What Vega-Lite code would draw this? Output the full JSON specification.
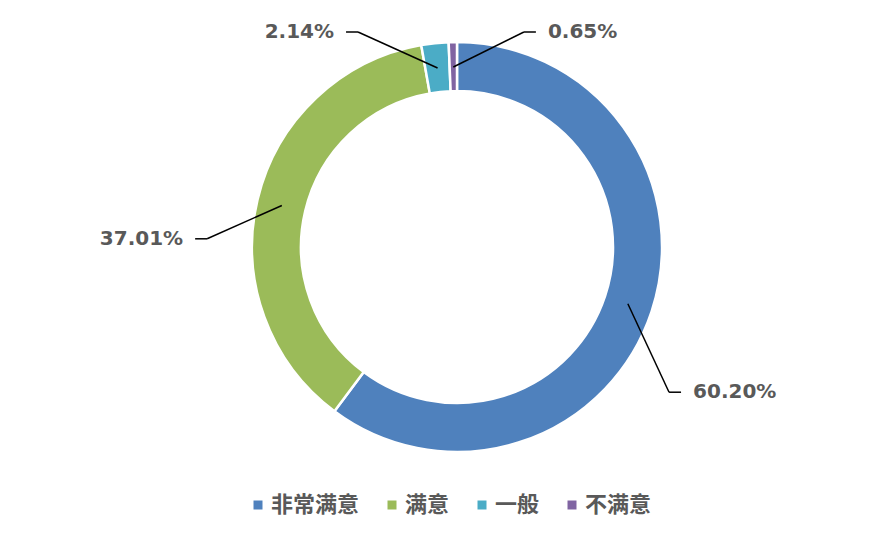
{
  "$schema": "https://vega.github.io/schema/vega-lite/v6.json",
  "width": 890,
  "height": 533,
  "autosize": {"type": "none"},
  "padding": 0,
  "background": "white",
  "config": {"view": {"stroke": null}},
  "data": {
    "values": [
      {"category": "非常满意", "pct": 60.20},
      {"category": "满意", "pct": 37.01},
      {"category": "一般", "pct": 2.14},
      {"category": "不满意", "pct": 0.65}
    ]
  },
  "transform": [
    {"window": [{"op": "row_number", "as": "rank"}, {"op": "sum", "field": "pct", "as": "cum"}], "frame": [null, 0]},
    {"joinaggregate": [{"op": "sum", "field": "pct", "as": "total"}, {"op": "count", "as": "n"}]},
    {"calculate": "2*PI*(datum.cum - datum.pct/2)/datum.total", "as": "mid"},
    {"calculate": "(sin(datum.mid) >= 0 || datum.rank == datum.n) ? 1 : -1", "as": "side"},
    {"calculate": "datum.mid + (datum.side > 0 ? 0.28 : -0.2)", "as": "la"},
    {"calculate": "250*cos(datum.la) > 215", "as": "top"},
    {"calculate": "datum.top ? 250*sin(datum.mid) + datum.side*72 : (datum.side > 0 ? 257 : 250)*sin(datum.la)", "as": "ex"},
    {"calculate": "datum.top ? 215 : (datum.side > 0 ? 257 : 250)*cos(datum.la)", "as": "ey"},
    {"calculate": "180*sin(datum.mid)", "as": "sx"},
    {"calculate": "180*cos(datum.mid)", "as": "sy"},
    {"calculate": "datum.ex + datum.side*12", "as": "hx"},
    {"calculate": "datum.ex + datum.side*24", "as": "tx"},
    {"calculate": "format(datum.pct, '.2f') + '%'", "as": "label"}
  ],
  "layer": [
    {
      "mark": {"type": "arc", "outerRadius": 205, "innerRadius": 156, "stroke": "white", "strokeWidth": 2.5},
      "encoding": {
        "x": {"datum": 0, "type": "quantitative", "scale": {"domain": [-457, 433], "nice": false, "zero": false}, "axis": null},
        "y": {"datum": 0, "type": "quantitative", "scale": {"domain": [-286, 247], "nice": false, "zero": false}, "axis": null},
        "theta": {"field": "pct", "type": "quantitative", "stack": true},
        "order": {"field": "rank", "type": "quantitative"},
        "color": {
          "field": "category",
          "type": "nominal",
          "scale": {"domain": ["非常满意", "满意", "一般", "不满意"], "range": ["#4F81BD", "#9BBB59", "#4BACC6", "#8064A2"]},
          "legend": {
            "title": null,
            "orient": "none",
            "direction": "horizontal",
            "legendX": 247,
            "legendY": 494,
            "symbolType": "square",
            "symbolSize": 81,
            "symbolStrokeWidth": 0,
            "labelFont": "Noto Sans CJK SC",
            "labelFontWeight": "bold",
            "labelFontSize": 22,
            "labelColor": "#595959",
            "labelOffset": 2,
            "columnPadding": 21,
            "padding": 0
          }
        }
      }
    },
    {
      "mark": {"type": "rule", "color": "#000000", "strokeWidth": 1.5},
      "encoding": {
        "x": {"field": "sx", "type": "quantitative", "scale": {"domain": [-457, 433], "nice": false, "zero": false}, "axis": null},
        "y": {"field": "sy", "type": "quantitative", "scale": {"domain": [-286, 247], "nice": false, "zero": false}, "axis": null},
        "x2": {"field": "ex"},
        "y2": {"field": "ey"}
      }
    },
    {
      "mark": {"type": "rule", "color": "#000000", "strokeWidth": 1.5},
      "encoding": {
        "x": {"field": "ex", "type": "quantitative", "scale": {"domain": [-457, 433], "nice": false, "zero": false}, "axis": null},
        "y": {"field": "ey", "type": "quantitative", "scale": {"domain": [-286, 247], "nice": false, "zero": false}, "axis": null},
        "x2": {"field": "hx"}
      }
    },
    {
      "mark": {"type": "text", "font": "DejaVu Sans", "fontWeight": "bold", "fontSize": 20, "color": "#595959", "baseline": "middle", "align": {"expr": "datum.side > 0 ? 'left' : 'right'"}},
      "encoding": {
        "x": {"field": "tx", "type": "quantitative", "scale": {"domain": [-457, 433], "nice": false, "zero": false}, "axis": null},
        "y": {"field": "ey", "type": "quantitative", "scale": {"domain": [-286, 247], "nice": false, "zero": false}, "axis": null},
        "text": {"field": "label"}
      }
    }
  ]
}
